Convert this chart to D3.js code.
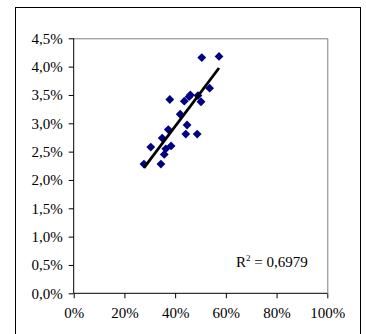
<!DOCTYPE html>
<html><head><meta charset="utf-8">
<script src="https://cdn.jsdelivr.net/npm/d3@7"></script>
<style>body{margin:0;background:#fff}svg{display:block}</style>
</head><body>
<svg id="c" width="366" height="334"></svg>
<script>
const xValues = [27.7,30.4,34.4,34.9,35.7,36.3,37.3,37.9,38.4,42.0,43.6,44.2,44.7,45.5,46.0,48.7,49.0,50.2,50.5,53.6,57.3];
const yValues = [2.28,2.58,2.28,2.74,2.45,2.55,2.89,3.42,2.60,3.16,3.39,2.81,2.97,3.47,3.50,2.81,3.49,3.38,4.16,3.62,4.18];
const xTicks = [0,20,40,60,80,100];
const yTicks = [0,0.5,1,1.5,2,2.5,3,3.5,4,4.5];
const r2Label = "0,6979";

const svg = d3.select("#c");
const L = 73.7, R = 327.3, T = 38.3, B = 293.3;
const x = d3.scaleLinear().domain([0,100]).range([L,R]);
const y = d3.scaleLinear().domain([0,4.5]).range([B,T]);
const font = "'Liberation Serif','Times New Roman',serif";

// outer frame
svg.append("rect").attr("x",15.5).attr("y",7.5).attr("width",345).attr("height",340)
  .attr("fill","none").attr("stroke","#000").attr("stroke-width",1);

// plot area border (grey top/right)
svg.append("path").attr("d",`M${L},${T+0.5}H${R+0.5}V${B}`).attr("fill","none").attr("stroke","#808080").attr("stroke-width",1);

const fmtY = d => d.toFixed(1).replace(".",",") + "%";
const fmtX = d => d + "%";

const yAxis = svg.append("g").attr("transform",`translate(${L},0)`)
  .call(d3.axisLeft(y).tickValues(yTicks).tickFormat(fmtY).tickSize(5).tickPadding(6));
const xAxis = svg.append("g").attr("transform",`translate(0,${B})`)
  .call(d3.axisBottom(x).tickValues(xTicks).tickFormat(fmtX).tickSize(5).tickPadding(9));
[yAxis,xAxis].forEach(g=>{
  g.selectAll("text").attr("font-family",font).attr("font-size",15).attr("fill","#000");
  g.selectAll("line,path").attr("stroke","#000");
});
yAxis.select(".domain").attr("d",`M0,${T}V${B}`);
xAxis.select(".domain").attr("d",`M${L},0H${R}`);

// points
const data = xValues.map((v,i)=>({x:v,y:yValues[i]}));
const h = 4.4;
svg.append("g").selectAll("path").data(data).join("path")
  .attr("d",d=>{const cx=x(d.x), cy=y(d.y);return `M${cx},${cy-h}L${cx+h},${cy}L${cx},${cy+h}L${cx-h},${cy}Z`;})
  .attr("fill","#000080");

// trend line (least squares)
const mx = d3.mean(xValues), my = d3.mean(yValues);
let sxy=0,sxx=0;
xValues.forEach((v,i)=>{sxy+=(v-mx)*(yValues[i]-my);sxx+=(v-mx)*(v-mx);});
const slope = sxy/sxx, icpt = my - slope*mx;
const x0 = d3.min(xValues), x1 = d3.max(xValues);
svg.append("line").attr("x1",x(x0)).attr("y1",y(icpt+slope*x0)).attr("x2",x(x1)).attr("y2",y(icpt+slope*x1))
  .attr("stroke","#000").attr("stroke-width",2.8);

// R2 label
const t = svg.append("text").attr("x",236).attr("y",267).attr("font-family",font).attr("font-size",15).attr("fill","#000");
t.append("tspan").text("R");
t.append("tspan").attr("font-size",9).attr("dy",-6).text("2");
t.append("tspan").attr("dy",6).text(" = " + r2Label);
</script>
</body></html>
